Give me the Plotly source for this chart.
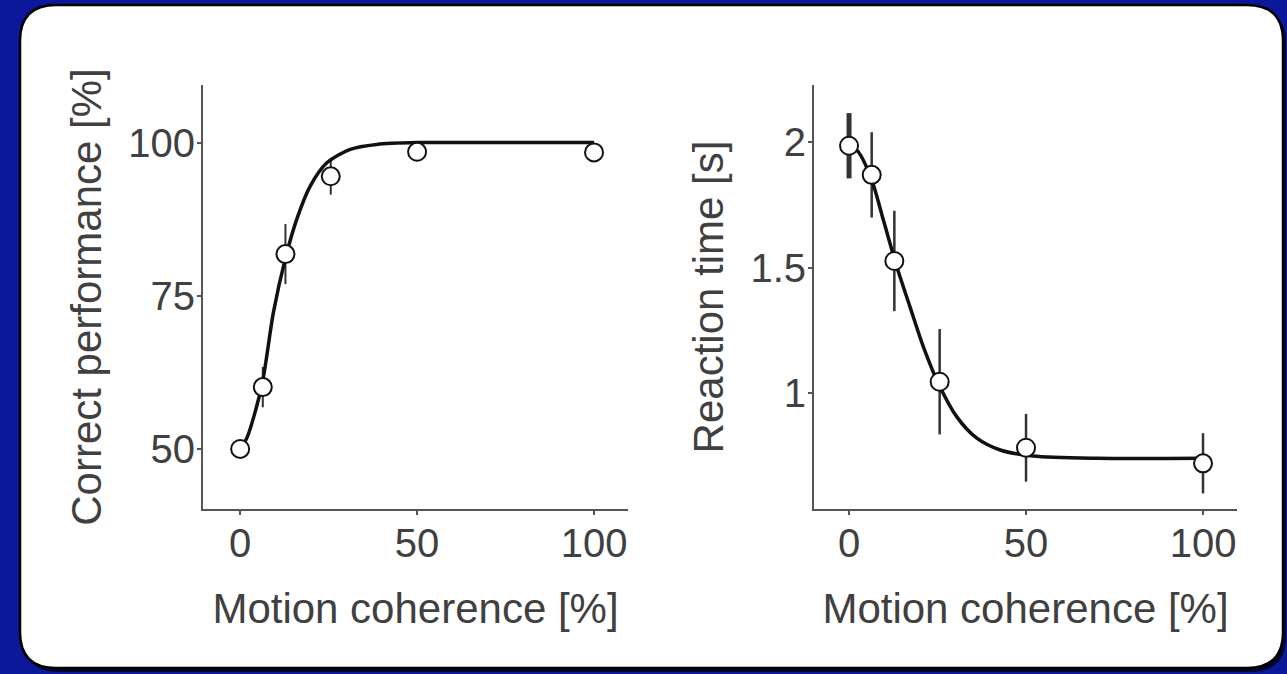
import plotly.graph_objects as go

W, H = 1287, 674

# ---- data ----
coherence = [0, 6.4, 12.8, 25.6, 50, 100]

perf_correct = [50.0, 60.1, 81.8, 94.5, 98.5, 98.4]
perf_err = [0.0, 3.3, 4.9, 3.0, 0.0, 0.0]

fit_perf_x = [0, 1.9, 6.1, 9.4, 12.7, 16.0, 19.8, 24.5, 31.1, 38.6, 50, 70, 100]
fit_perf_y = [50, 51.8, 60.3, 72.3, 80.9, 87.5, 92.9, 96.7, 98.9, 99.7, 100, 100, 100]

rt_mean = [1.985, 1.869, 1.526, 1.045, 0.782, 0.720]
rt_err = [0.13, 0.17, 0.20, 0.21, 0.135, 0.12]

fit_rt_x = [0, 2.6, 6.4, 9.7, 13.5, 17.2, 21, 25.2, 30.4, 36.1, 42.7, 52, 70, 100]
fit_rt_y = [1.99, 1.961, 1.849, 1.689, 1.503, 1.344, 1.184, 1.039, 0.906, 0.820, 0.773, 0.749, 0.740, 0.740]

x_ticks = [0, 50, 100]
perf_ticks = [50, 75, 100]
rt_ticks = [1, 1.5, 2]
rt_ticktext = ["1", "1.5", "2"]

# ---- style ----
FONT = "Liberation Sans, Arial, Helvetica, sans-serif"
TXT = "#404040"
AX = "#555555"
BLUE = "#0a1899"


def px(x):
    return x / W


def py(y):
    return 1 - y / H


fig = go.Figure()

# error bars (drawn first, under the curve)
fig.add_trace(go.Scatter(
    x=coherence, y=perf_correct, mode="markers",
    marker=dict(size=1, color="rgba(0,0,0,0)"),
    error_y=dict(type="data", array=perf_err, visible=True, width=0,
                 thickness=2, color="#333333"),
    xaxis="x", yaxis="y", showlegend=False, hoverinfo="skip"))
fig.add_trace(go.Scatter(
    x=coherence[1:], y=rt_mean[1:], mode="markers",
    marker=dict(size=1, color="rgba(0,0,0,0)"),
    error_y=dict(type="data", array=rt_err[1:], visible=True, width=0,
                 thickness=2.5, color="#333333"),
    xaxis="x2", yaxis="y2", showlegend=False, hoverinfo="skip"))
fig.add_trace(go.Scatter(
    x=coherence[:1], y=rt_mean[:1], mode="markers",
    marker=dict(size=1, color="rgba(0,0,0,0)"),
    error_y=dict(type="data", array=rt_err[:1], visible=True, width=0,
                 thickness=5, color="#333333"),
    xaxis="x2", yaxis="y2", showlegend=False, hoverinfo="skip"))

# fitted curves
fig.add_trace(go.Scatter(
    x=fit_perf_x, y=fit_perf_y, mode="lines",
    line=dict(color="#111111", width=3.5, shape="spline", smoothing=0.8),
    xaxis="x", yaxis="y", showlegend=False))
fig.add_trace(go.Scatter(
    x=fit_rt_x, y=fit_rt_y, mode="lines",
    line=dict(color="#111111", width=3.5, shape="spline", smoothing=0.8),
    xaxis="x2", yaxis="y2", showlegend=False))

# data markers
fig.add_trace(go.Scatter(
    x=coherence, y=perf_correct, mode="markers",
    marker=dict(size=18, color="white", line=dict(color="#111111", width=2)),
    xaxis="x", yaxis="y", showlegend=False))
fig.add_trace(go.Scatter(
    x=coherence, y=rt_mean, mode="markers",
    marker=dict(size=18, color="white", line=dict(color="#111111", width=2)),
    xaxis="x2", yaxis="y2", showlegend=False))

axis_common = dict(
    showline=True, linecolor=AX, linewidth=2, ticks="outside", ticklen=4,
    tickcolor=AX, tickwidth=2, showgrid=False, zeroline=False,
    ticklabelstandoff=-6,
    tickfont=dict(family=FONT, size=40, color=TXT),
)
title_font = dict(family=FONT, size=42, color=TXT)

yd = [py(509), py(85)]

fig.update_layout(
    width=W, height=H,
    margin=dict(l=0, r=0, t=0, b=0),
    paper_bgcolor=BLUE,
    plot_bgcolor="rgba(0,0,0,0)",
    font=dict(family=FONT, color=TXT),
    xaxis=dict(domain=[px(203), px(628)], range=[-10.5, 109.6], anchor="y",
               tickvals=x_ticks,
               title=dict(text="Motion coherence [%]", standoff=30, font=title_font),
               **axis_common),
    yaxis=dict(domain=yd, range=[40.2, 109.4], anchor="x",
               tickvals=perf_ticks,
               title=dict(text="Correct performance [%]", standoff=14, font=title_font),
               **axis_common),
    xaxis2=dict(domain=[px(814), px(1237)], range=[-9.9, 109.6], anchor="y2",
                tickvals=x_ticks,
                title=dict(text="Motion coherence [%]", standoff=30, font=title_font),
                **axis_common),
    yaxis2=dict(domain=yd, range=[0.538, 2.227], anchor="x2",
                tickvals=rt_ticks, ticktext=rt_ticktext,
                title=dict(text="Reaction time [s]", standoff=14, font=title_font),
                **axis_common),
)

# white rounded panel with dark border and slight shadow
def rounded(x0, y0, x1, y1, r):
    rx, ry = r / W, r / H
    X0, X1 = px(x0), px(x1)
    Y0, Y1 = py(y0), py(y1)  # Y0 top, Y1 bottom (paper)
    return (f"M {X0+rx},{Y0} L {X1-rx},{Y0} Q {X1},{Y0} {X1},{Y0-ry} "
            f"L {X1},{Y1+ry} Q {X1},{Y1} {X1-rx},{Y1} "
            f"L {X0+rx},{Y1} Q {X0},{Y1} {X0},{Y1+ry} "
            f"L {X0},{Y0-ry} Q {X0},{Y0} {X0+rx},{Y0} Z")

fig.add_shape(type="path", xref="paper", yref="paper", layer="below",
              path=rounded(23, 8, 1286, 672, 36),
              fillcolor="#02052a", line=dict(width=0))
fig.add_shape(type="path", xref="paper", yref="paper", layer="below",
              path=rounded(20, 5, 1283, 668, 36),
              fillcolor="white", line=dict(color="#000000", width=2.5))

fig.write_html(
    "out.html",
    config={"displayModeBar": False},
    post_script="document.body.style.margin='0';document.body.style.overflow='hidden';",
)
